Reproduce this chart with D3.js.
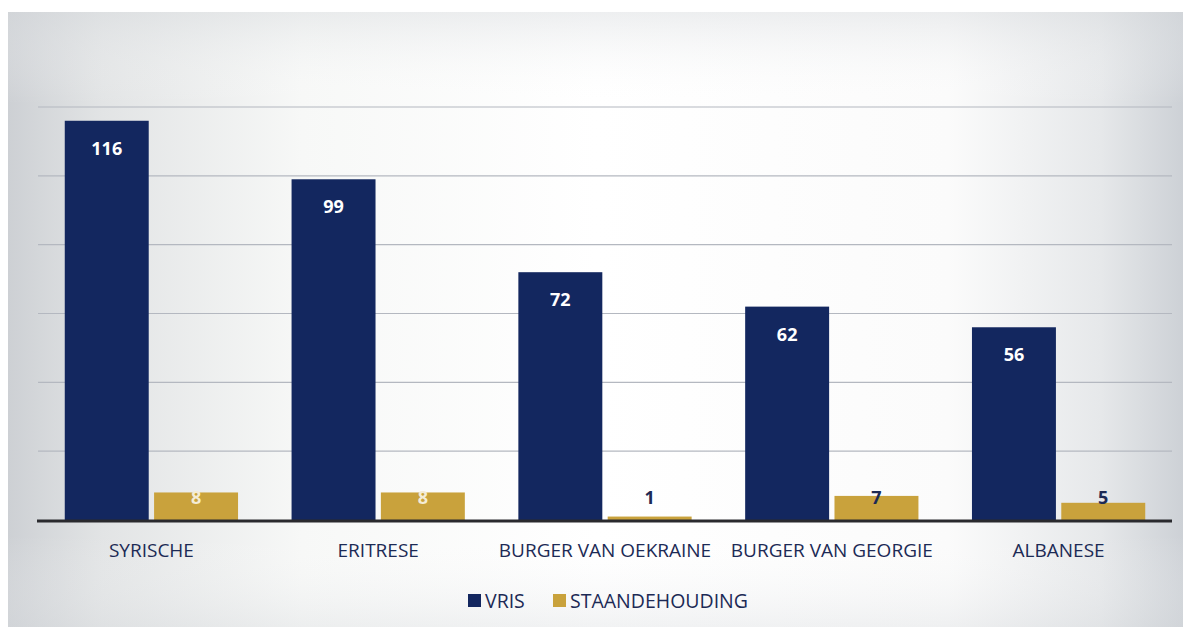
<!DOCTYPE html>
<html><head><meta charset="utf-8">
<script src="https://cdn.jsdelivr.net/npm/d3@7"></script>
<style>
html,body{margin:0;padding:0;background:#fff;}
svg{display:block;font-family:"Open Sans","Noto Sans",sans-serif;}
</style></head>
<body>
<svg id="chart" width="1183" height="629"></svg>
<script>
const categories = ["SYRISCHE","ERITRESE","BURGER VAN OEKRAINE","BURGER VAN GEORGIE","ALBANESE"];
const vrisValues = [116,99,72,62,56];
const staandeValues = [8,8,1,7,5];
const seriesNames = ["VRIS","STAANDEHOUDING"];
const yTicks = [0,20,40,60,80,100,120];

const W = 1183, H = 629;
const navy = "#13275f", gold = "#c9a23c", textNavy = "#1c2a55";
const svg = d3.select("#chart");

// background panel with soft gradient
const defs = svg.append("defs");
const lg = defs.append("linearGradient").attr("id","bgH").attr("x1","0").attr("x2","1").attr("y1","0").attr("y2","0");
[[0,"#cdd0d4"],[0.08,"#e2e4e5"],[0.25,"#f7f8f7"],[0.5,"#ffffff"],[0.8,"#fbfbfb"],[0.93,"#e6e8ea"],[1,"#cdd1d6"]]
  .forEach(([o,c])=>lg.append("stop").attr("offset",o).attr("stop-color",c));
const vg = defs.append("linearGradient").attr("id","bgV").attr("x1","0").attr("x2","0").attr("y1","0").attr("y2","1");
[[0,"#d8dbde",0.45],[0.15,"#ffffff",0],[0.85,"#ffffff",0],[1,"#d8dbde",0.35]]
  .forEach(([o,c,a])=>vg.append("stop").attr("offset",o).attr("stop-color",c).attr("stop-opacity",a));

svg.append("rect").attr("x",8).attr("y",12).attr("width",W-8).attr("height",H-14).attr("fill","url(#bgH)");
svg.append("rect").attr("x",8).attr("y",12).attr("width",W-8).attr("height",H-14).attr("fill","url(#bgV)");

const m = {left:38, right:1172, top:107, bottom:520};
const x0 = d3.scaleBand().domain(categories).range([m.left, m.right]).paddingInner(0.236).paddingOuter(0.118);
const x1 = d3.scaleBand().domain(seriesNames).range([0, x0.bandwidth()]).paddingInner(0.06);
const y = d3.scaleLinear().domain([0,120]).range([m.bottom, m.top]);

// gridlines
svg.append("g").selectAll("line").data(yTicks.filter(t=>t>0)).join("line")
  .attr("x1",m.left).attr("x2",m.right)
  .attr("y1",d=>y(d)).attr("y2",d=>y(d))
  .attr("stroke","#b4b8c0").attr("stroke-width",1.2);

const data = categories.map((c,i)=>({cat:c, vals:[{s:"VRIS",v:vrisValues[i]},{s:"STAANDEHOUDING",v:staandeValues[i]}]}));

const groups = svg.append("g").selectAll("g").data(data).join("g")
  .attr("transform",d=>`translate(${x0(d.cat)},0)`);

groups.selectAll("rect").data(d=>d.vals).join("rect")
  .attr("x",d=>x1(d.s)).attr("width",x1.bandwidth())
  .attr("y",d=>y(d.v)).attr("height",d=>m.bottom-y(d.v))
  .attr("fill",d=>d.s==="VRIS"?navy:gold);

// value labels
groups.selectAll("text.val").data(d=>d.vals).join("text").attr("class","val")
  .attr("x",d=>x1(d.s)+x1.bandwidth()/2)
  .attr("y",d=>{
    if(d.s==="VRIS") return y(d.v)+34;
    return Math.min(y(d.v)+12, m.bottom-16);
  })
  .attr("text-anchor","middle")
  .attr("font-size",18).attr("font-weight",700)
  .attr("fill",d=>{
    if(d.s==="VRIS") return "#ffffff";
    return (m.bottom-y(d.v))>=26 ? "#f4ecd6" : textNavy;
  })
  .text(d=>d.v);

// baseline
svg.append("line").attr("x1",m.left-1).attr("x2",m.right).attr("y1",m.bottom+1).attr("y2",m.bottom+1)
  .attr("stroke","#2a2a2e").attr("stroke-width",3);

// category axis labels
const xAxis = d3.axisBottom(x0).tickSize(0).tickPadding(0);
const ax = svg.append("g").attr("transform",`translate(0,${m.bottom})`).call(xAxis);
ax.select(".domain").remove();
ax.selectAll("text").attr("dy",0).attr("y",37)
  .attr("font-size",19).attr("fill",textNavy).attr("font-family","'Open Sans','Noto Sans',sans-serif");

// legend
const legend = svg.append("g").attr("transform","translate(468,594)");
const items = [{n:seriesNames[0],c:navy,x:0},{n:seriesNames[1],c:gold,x:85}];
const li = legend.selectAll("g").data(items).join("g").attr("transform",d=>`translate(${d.x},0)`);
li.append("rect").attr("width",13).attr("height",13).attr("fill",d=>d.c);
li.append("text").attr("x",17).attr("y",14).attr("font-size",19.5).attr("fill",textNavy).text(d=>d.n);
</script>
</body></html>
